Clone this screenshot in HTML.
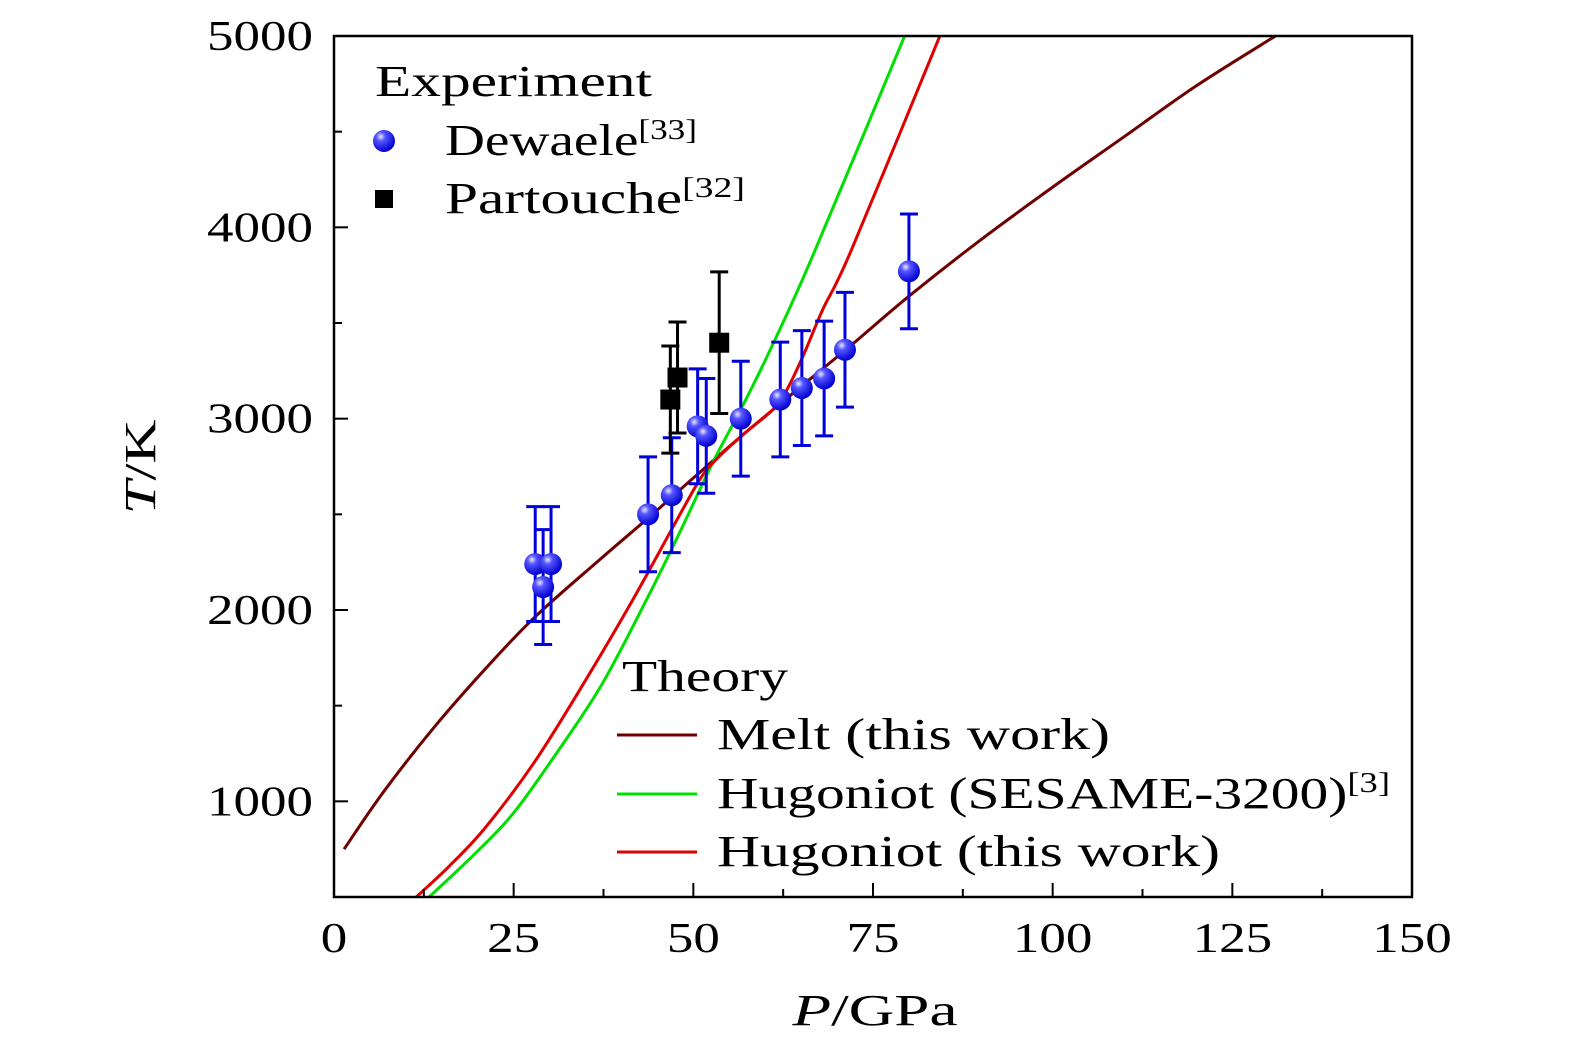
<!DOCTYPE html>
<html><head><meta charset="utf-8"><style>
body{margin:0;background:#fff}
svg text{font-family:"Liberation Serif",serif;fill:#000}
</style></head><body>
<svg id="chart" width="1575" height="1053" viewBox="0 0 1575 1053" xmlns="http://www.w3.org/2000/svg">
<g id="curves"></g><g id="points"></g><g id="axes"></g><g id="legend"></g>
</svg>
<script>
const xTicks=[0,25,50,75,100,125,150];
const yTicks=[1000,2000,3000,4000,5000];
const dewP=[28.0,29.1,30.2,43.7,47.0,50.6,51.8,56.6,62.1,65.1,68.2,71.1,80.0];
const dewT=[2240,2120,2240,2500,2600,2960,2910,3000,3100,3160,3210,3360,3770];
const dewErr=[300,300,300,300,300,300,300,300,300,300,300,300,300];
const parP=[46.8,47.8,53.6];
const parT=[3100,3215,3397];
const parErr=[280,290,370];
const meltP=[1.4,7,14,21,28,37,44,50,56.9,64.8,72,80,90,100,110,120,131];
const meltT=[750,1055,1390,1690,1965,2264,2490,2690,2916,3162,3385,3640,3935,4210,4475,4740,5000];
const sesP=[12.9,20,25,30.2,37.1,43.5,48.1,52.7,56.9,60.7,66.6,79.4];
const sesT=[488,740,940,1210,1600,2055,2405,2770,3070,3360,3850,5000];
const hugP=[11.1,16,21,27.8,34.8,41.6,47.7,50.9,53,56.9,61,63,65.3,68,72,84.3];
const hugT=[488,660,860,1200,1620,2055,2470,2682,2780,2916,3045,3150,3330,3570,3882,5000];

const X0=334,X1=1412,Y0=897,Y1=36,PMIN=0,PMAX=150,TMIN=500,TMAX=5000;
const xs=p=>X0+(p-PMIN)/(PMAX-PMIN)*(X1-X0);
const ys=t=>Y0-(t-TMIN)/(TMAX-TMIN)*(Y0-Y1);
const NS="http://www.w3.org/2000/svg";
function mk(tag,attrs,parent){const e=document.createElementNS(NS,tag);for(const k in attrs)e.setAttribute(k,attrs[k]);parent.appendChild(e);return e;}
const gC=document.getElementById('curves'),gP=document.getElementById('points'),gA=document.getElementById('axes'),gL=document.getElementById('legend');
const svg=document.getElementById('chart');
const defs=mk('defs',{},svg);
const rg=mk('radialGradient',{id:'ball',cx:'0.35',cy:'0.3',r:'0.7'},defs);
mk('stop',{offset:'0','stop-color':'#e8e8ff'},rg);
mk('stop',{offset:'0.3','stop-color':'#5555ff'},rg);
mk('stop',{offset:'1','stop-color':'#0000d0'},rg);
const clip=mk('clipPath',{id:'plotclip'},defs);
mk('rect',{x:X0,y:Y1,width:X1-X0,height:Y0-Y1},clip);
gC.setAttribute('clip-path','url(#plotclip)');

function smoothPath(P,T){
  const pts=P.map((p,i)=>[xs(p),ys(T[i])]);
  let d='M'+pts[0][0]+','+pts[0][1];
  for(let i=0;i<pts.length-1;i++){
    const p0=pts[i-1]||pts[i],p1=pts[i],p2=pts[i+1],p3=pts[i+2]||p2;
    const c1=[p1[0]+(p2[0]-p0[0])/6,p1[1]+(p2[1]-p0[1])/6];
    const c2=[p2[0]-(p3[0]-p1[0])/6,p2[1]-(p3[1]-p1[1])/6];
    d+=' C'+c1+' '+c2+' '+p2;
  }
  return d;
}
let c;
c=mk('path',{d:smoothPath(meltP,meltT),fill:'none',stroke:'#700000','stroke-width':3},gC);


c=mk('path',{d:smoothPath(sesP,sesT),fill:'none',stroke:'#00e000','stroke-width':3},gC);


c=mk('path',{d:smoothPath(hugP,hugT),fill:'none',stroke:'#e00000','stroke-width':3},gC);



function errbar(p,t,e,col,name){
  const g=mk('g',{stroke:col,'stroke-width':3},gP);
  
  
  const x=xs(p);
  mk('line',{x1:x,x2:x,y1:ys(t+e),y2:ys(t-e)},g);
  mk('line',{x1:x-9,x2:x+9,y1:ys(t+e),y2:ys(t+e)},g);
  mk('line',{x1:x-9,x2:x+9,y1:ys(t-e),y2:ys(t-e)},g);
}
dewP.forEach((p,i)=>errbar(p,dewT[i],dewErr[i],'#0000dd','dewaele-errorbar'));
parP.forEach((p,i)=>errbar(p,parT[i],parErr[i],'#000','partouche-errorbar'));
dewP.forEach((p,i)=>{
  const e=mk('circle',{cx:xs(p),cy:ys(dewT[i]),r:11,fill:'url(#ball)'},gP);
  
  
});
parP.forEach((p,i)=>{
  const e=mk('rect',{x:xs(p)-10,y:ys(parT[i])-10,width:20,height:20,fill:'#000'},gP);
  
  
});

// axes
let a=mk('rect',{x:X0,y:Y1,width:X1-X0,height:Y0-Y1,fill:'none',stroke:'#000','stroke-width':2.5},gA);


for(let p=0;p<=150;p+=12.5){
  const major=p%25===0;const x=xs(p);
  mk('line',{x1:x,x2:x,y1:Y0,y2:Y0-(major?14:8),stroke:'#000','stroke-width':2},gA);
}
for(let t=500;t<=5000;t+=500){
  const major=t%1000===0;const y=ys(t);
  mk('line',{x1:X0,x2:X0+(major?14:8),y1:y,y2:y,stroke:'#000','stroke-width':2},gA);
}
xTicks.forEach(v=>{
  const s=String(v);
  const e=mk('text',{x:xs(v),y:Y0+55,'font-size':42,'text-anchor':'middle',textLength:s.length*26.5,lengthAdjust:'spacingAndGlyphs'},gA);e.textContent=s;
  
  
});
yTicks.forEach(v=>{
  const e=mk('text',{x:X0-21,y:ys(v)+14,'font-size':42,'text-anchor':'end',textLength:106,lengthAdjust:'spacingAndGlyphs'},gA);e.textContent=v;
  
  
});
let t=mk('text',{x:875,y:1025,'font-size':44,'text-anchor':'middle',textLength:165,lengthAdjust:'spacingAndGlyphs'},gA);
t.innerHTML='<tspan font-style="italic">P</tspan>/GPa';


t=mk('text',{x:0,y:0,'font-size':44,'text-anchor':'middle',textLength:95,lengthAdjust:'spacingAndGlyphs',transform:'translate(155,467) rotate(-90)'},gA);
t.innerHTML='<tspan font-style="italic">T</tspan>/K';



// legend
function txt(x,y,html,w,name){const e=mk('text',{x:x,y:y,'font-size':44,textLength:w,lengthAdjust:'spacingAndGlyphs'},gL);e.innerHTML=html;
  
  return e;}
txt(375,96,'Experiment',277,'legend-experiment-title');
mk('circle',{cx:384,cy:141,r:11,fill:'url(#ball)'},gL);
txt(445,155,'Dewaele<tspan font-size="28" dy="-16">[33]</tspan>',252,'legend-entry-dewaele');
mk('rect',{x:375,y:190,width:18,height:18,fill:'#000'},gL);
txt(445,213,'Partouche<tspan font-size="28" dy="-16">[32]</tspan>',300,'legend-entry-partouche');
txt(622,691,'Theory',166,'legend-theory-title');
mk('line',{x1:617,x2:697,y1:735,y2:735,stroke:'#700000','stroke-width':3},gL);
txt(717,749,'Melt (this work)',393,'legend-entry-melt');
mk('line',{x1:617,x2:697,y1:794,y2:794,stroke:'#00e000','stroke-width':3},gL);
txt(717,808,'Hugoniot (SESAME-3200)<tspan font-size="28" dy="-16">[3]</tspan>',673,'legend-entry-sesame');
mk('line',{x1:617,x2:697,y1:852,y2:852,stroke:'#e00000','stroke-width':3},gL);
txt(717,866,'Hugoniot (this work)',503,'legend-entry-hugoniot');
</script>
</body></html>
